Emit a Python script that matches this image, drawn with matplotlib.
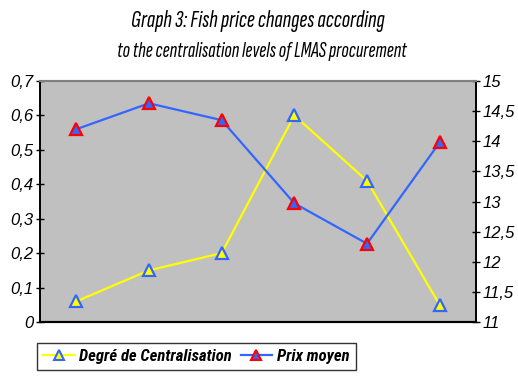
import matplotlib.pyplot as plt
from matplotlib.lines import Line2D
import numpy as np

# data
categories = ["1", "2", "3", "4", "5", "6"]
centralisation = [0.06, 0.15, 0.20, 0.60, 0.41, 0.05]
prix_moyen = [14.2, 14.63, 14.35, 12.97, 12.3, 13.98]
left_ticks = [0, 0.1, 0.2, 0.3, 0.4, 0.5, 0.6, 0.7]
left_labels = ["0", "0,1", "0,2", "0,3", "0,4", "0,5", "0,6", "0,7"]
right_ticks = [11, 11.5, 12, 12.5, 13, 13.5, 14, 14.5, 15]
right_labels = ["11", "11,5", "12", "12,5", "13", "13,5", "14", "14,5", "15"]

NARROW = ["Sofia Sans Extra Condensed", "DejaVu Sans"]
LEGFONT = ["Roboto Condensed", "DejaVu Sans"]
plt.rcParams["font.family"] = ["Liberation Sans", "DejaVu Sans"]

fig = plt.figure(figsize=(5.18, 3.77), dpi=100)
fig.patch.set_facecolor("white")
ax = fig.add_axes([40 / 518, 55 / 377, 436 / 518, 241 / 377])
ax.set_facecolor("#c0c0c0")
ax2 = ax.twinx()

x = np.arange(len(categories))
ax.plot(x, centralisation, color="#ffff00", lw=1.6, marker="^", ms=8,
        mfc="#ffff00", mec="#3366ff", mew=1.6, zorder=3)
ax2.plot(x, prix_moyen, color="#3366ff", lw=1.6, marker="^", ms=8,
         mfc="#3366ff", mec="#ff0000", mew=1.6, zorder=3)

ax.set_xlim(-0.5, len(categories) - 0.5)
ax.set_xticks([])
ax.set_ylim(0, 0.7)
ax.set_yticks(left_ticks)
ax.set_yticklabels(left_labels, fontsize=12, style="italic")
ax2.set_ylim(11, 15)
ax2.set_yticks(right_ticks)
ax2.set_yticklabels(right_labels, fontsize=12, style="italic")
ax.tick_params(axis="y", direction="inout", length=6, width=1, pad=2)
ax2.tick_params(axis="y", direction="inout", length=6, width=1, pad=2)

for a in (ax, ax2):
    a.spines["top"].set_color("#808080")
    a.spines["top"].set_linewidth(1.5)
    a.spines["bottom"].set_linewidth(1.5)
    a.spines["left"].set_linewidth(1.2)
    a.spines["right"].set_linewidth(1.2)

fig.text(0.497, 0.945, "Graph 3: Fish price changes according",
         ha="center", va="center", fontsize=18, style="italic", family=NARROW)
fig.text(0.505, 0.865, "to the centralisation levels of LMAS procurement",
         ha="center", va="center", fontsize=16, style="italic", family=NARROW)

handles = [
    Line2D([], [], color="#ffff00", lw=1.6, marker="^", ms=7,
           mfc="#ffff00", mec="#3366ff", mew=1.5),
    Line2D([], [], color="#3366ff", lw=1.6, marker="^", ms=7,
           mfc="#3366ff", mec="#ff0000", mew=1.5),
]
leg = fig.legend(handles, ["Degré de Centralisation", "Prix moyen"],
                 loc="upper left", bbox_to_anchor=(37 / 518, 34 / 377),
                 ncol=2, frameon=True, fancybox=False, borderaxespad=0,
                 handlelength=1.9, columnspacing=0.5, handletextpad=0.3,
                 borderpad=0.35,
                 prop={"family": LEGFONT, "style": "italic", "weight": "bold", "size": 12})
leg.get_frame().set_edgecolor("black")
leg.get_frame().set_linewidth(1.0)

fig.savefig("out.png", dpi=100)
